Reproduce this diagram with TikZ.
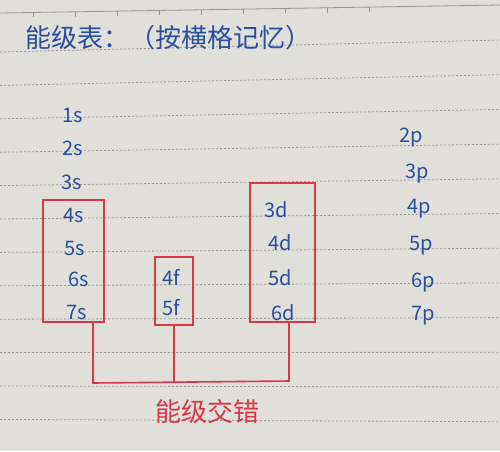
\documentclass[tikz,border=0pt]{standalone}
\usepackage{fontspec}
\setmainfont{Noto Sans CJK SC}
\begin{document}
\begin{tikzpicture}[x=1pt,y=-1pt,
  blueink/.style={text=inkblue,font=\fontsize{20}{20}\selectfont,inner sep=0pt,anchor=base west},
  redbox/.style={draw=inkred,line width=1.6pt,rectangle,inner sep=0pt},
  redline/.style={draw=inkred,line width=1.6pt},
  rule/.style={draw=rulegray,line width=0.8pt,dash pattern=on 2pt off 2pt},
]
\definecolor{paper}{HTML}{E0DFDA}
\definecolor{rulegray}{HTML}{A0958E}
\definecolor{inkblue}{HTML}{2B4F9E}
\definecolor{inkred}{HTML}{D9374A}
\useasboundingbox (0,0) rectangle (500,451);
\fill[paper] (0,0) rectangle (500,451);
% paper rulings
\draw[draw=rulegray,line width=0.8pt] (0,13) -- (500,5);
\foreach \k in {0,...,8} {
  \draw[draw=rulegray,line width=0.8pt] ({33+42*\k},{13-0.016*(33+42*\k)}) -- ++(0,5);
}
\foreach \k in {0,...,11} {
  \draw[rule] (0,{52+33.4*\k}) -- (500,{40+34.7*\k});
}
% title
\node[text=inkblue,font=\fontsize{26}{26}\selectfont,inner sep=0pt] (title) at (168,38) {能级表：（按横格记忆）};
% s column
\node[blueink] (s1) at (62,122) {1s};
\node[blueink] (s2) at (62,155) {2s};
\node[blueink] (s3) at (61,189) {3s};
\node[blueink] (s4) at (63,222) {4s};
\node[blueink] (s5) at (64,255) {5s};
\node[blueink] (s6) at (68,286) {6s};
\node[blueink] (s7) at (66,319) {7s};
% f column
\node[blueink] (f4) at (162,285) {4f};
\node[blueink] (f5) at (162,315) {5f};
% d column
\node[blueink] (d3) at (264,217) {3d};
\node[blueink] (d4) at (268,250) {4d};
\node[blueink] (d5) at (268,285) {5d};
\node[blueink] (d6) at (271,320) {6d};
% p column
\node[blueink] (p2) at (399,142) {2p};
\node[blueink] (p3) at (405,178) {3p};
\node[blueink] (p4) at (407,213) {4p};
\node[blueink] (p5) at (409,250) {5p};
\node[blueink] (p6) at (411,287) {6p};
\node[blueink] (p7) at (411,320) {7p};
% boxes
\node[redbox,minimum width=61pt,minimum height=122pt] (bs) at (73.5,261) {};
\node[redbox,minimum width=38pt,minimum height=68pt] (bf) at (174,291) {};
\node[redbox,minimum width=65pt,minimum height=139pt] (bd) at (282.5,252.5) {};
% connectors
\coordinate (ja) at (93,383);
\coordinate (jb) at (289,381);
\draw[redline] (ja |- bs.south) -- (ja) -- (jb) -- (jb |- bd.south);
\draw[redline] (bf.south) -- (bf.south |- ja);
% bottom label
\node[text=inkred,font=\fontsize{26}{26}\selectfont,inner sep=0pt] (cross) at (207,412) {能级交错};
\end{tikzpicture}
\end{document}
